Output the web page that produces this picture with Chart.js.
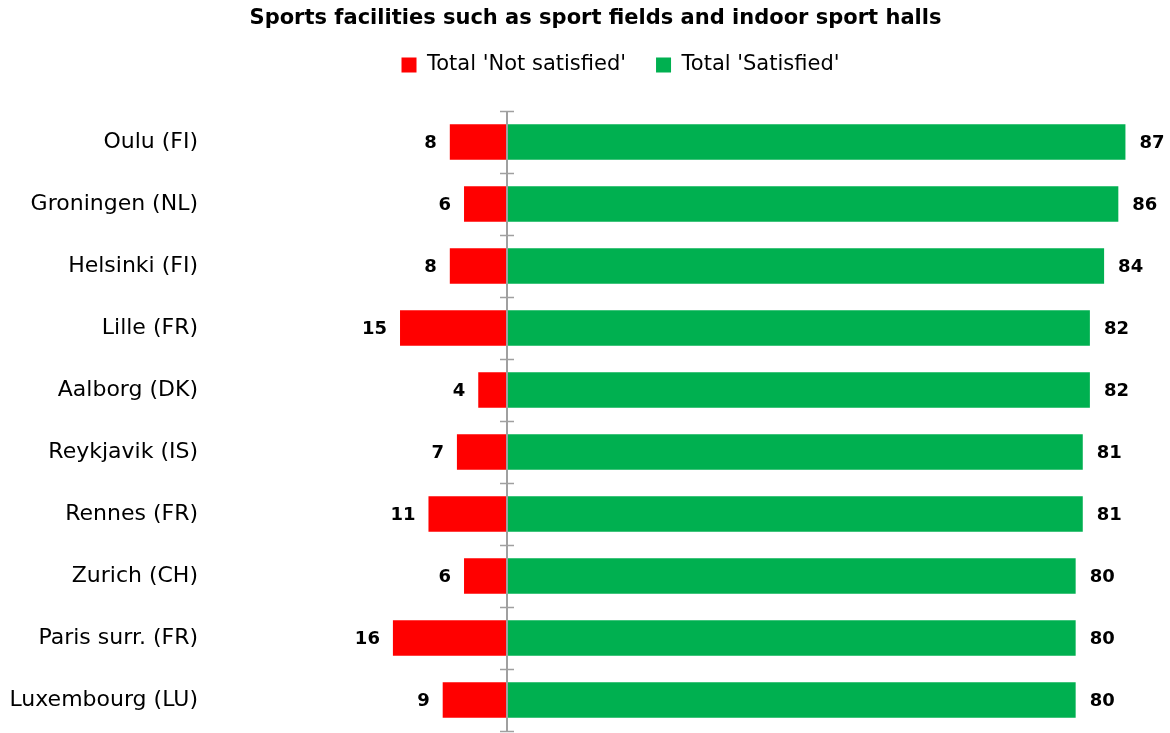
<!DOCTYPE html>
<html>
<head>
<meta charset="utf-8">
<script src="https://cdn.jsdelivr.net/npm/chart.js@4/dist/chart.umd.min.js"></script>
<style>
html,body{margin:0;padding:0;background:#fff;overflow:hidden;}
canvas{display:block;}
</style>
</head>
<body>
<canvas id="c" width="1170" height="733" style="width:1170px;height:733px;"></canvas>
<script>
const cities = ["Oulu (FI)","Groningen (NL)","Helsinki (FI)","Lille (FR)","Aalborg (DK)","Reykjavik (IS)","Rennes (FR)","Zurich (CH)","Paris surr. (FR)","Luxembourg (LU)"];
const notSatisfied = [8,6,8,15,4,7,11,6,16,9];
const satisfied = [87,86,84,82,82,81,81,80,80,80];
const seriesNames = ["Total 'Not satisfied'","Total 'Satisfied'"];
const chartTitle = "Sports facilities such as sport fields and indoor sport halls";

const labelFont = "'DejaVu Sans', Verdana, sans-serif";

const valueLabels = {
  id: 'valueLabels',
  afterDatasetsDraw(chart) {
    const ctx = chart.ctx;
    ctx.save();
    ctx.font = "bold 18px " + labelFont;
    ctx.fillStyle = '#000';
    ctx.textBaseline = 'middle';
    chart.data.datasets.forEach((ds, di) => {
      const meta = chart.getDatasetMeta(di);
      meta.data.forEach((bar, i) => {
        const v = Math.abs(ds.data[i]);
        if (ds.data[i] < 0) {
          ctx.textAlign = 'right';
          ctx.fillText(String(v), bar.x - 13, bar.y + 1);
        } else {
          ctx.textAlign = 'left';
          ctx.fillText(String(v), bar.x + 14, bar.y + 1);
        }
      });
    });
    ctx.restore();
  }
};

const axisTicks = {
  id: 'axisTicks',
  afterDatasetsDraw(chart) {
    const ctx = chart.ctx;
    const xs = chart.scales.x, ys = chart.scales.y;
    const x0 = Math.round(xs.getPixelForValue(0));
    ctx.save();
    ctx.strokeStyle = '#a0a0a0';
    ctx.lineWidth = 2;
    ctx.beginPath();
    ctx.moveTo(x0, ys.top);
    ctx.lineTo(x0, ys.bottom);
    ctx.stroke();
    ctx.lineWidth = 1.5;
    ctx.beginPath();
    const n = cities.length;
    const step = ys.getPixelForValue(1) - ys.getPixelForValue(0);
    for (let i = 0; i <= n; i++) {
      const y = ys.getPixelForValue(0) - step / 2 + i * step;
      const yy = Math.round(y) + 0.5;
      ctx.moveTo(x0 - 7, yy);
      ctx.lineTo(x0 + 7, yy);
    }
    ctx.stroke();
    ctx.restore();
  }
};

const shiftBoxes = {
  id: 'shiftBoxes',
  afterLayout(chart) {
    if (chart.titleBlock) chart.titleBlock.left += 30;
    if (chart.legend) chart.legend.left += 80;
  }
};

new Chart(document.getElementById('c'), {
  type: 'bar',
  data: {
    labels: cities,
    datasets: [
      { label: seriesNames[0], data: notSatisfied.map(v => -v), backgroundColor: '#FF0000', borderWidth: 0, barPercentage: 0.57, categoryPercentage: 1 },
      { label: seriesNames[1], data: satisfied, backgroundColor: '#00B050', borderWidth: 0, barPercentage: 0.57, categoryPercentage: 1 }
    ]
  },
  options: {
    indexAxis: 'y',
    responsive: false,
    maintainAspectRatio: false,
    animation: false,
    layout: { autoPadding: false, padding: { top: 0, right: 9, bottom: 2, left: 0 } },
    scales: {
      x: {
        stacked: true,
        position: 'top',
        min: -42, max: 92,
        ticks: { display: false },
        grid: { display: false, drawTicks: true, tickLength: 25.5 },
        border: { display: false }
      },
      y: {
        stacked: true,
        ticks: { color: '#000', font: { family: labelFont, size: 22 }, padding: 10 },
        grid: { display: false, drawTicks: false },
        border: { display: false },
        afterFit(scale) { scale.width = 208; scale.paddingTop = 0; scale.paddingBottom = 0; }
      }
    },
    plugins: {
      title: {
        display: true,
        text: chartTitle,
        color: '#000',
        font: { family: "'DejaVu Sans', Verdana, sans-serif", size: 21, weight: 'bold' },
        padding: { top: 6.4, bottom: -7.1 }
      },
      legend: {
        display: true,
        labels: {
          color: '#000',
          font: { family: labelFont, size: 21 },
          boxWidth: 15, boxHeight: 15,
          padding: 30
        }
      },
      tooltip: { enabled: false }
    }
  },
  plugins: [valueLabels, axisTicks, shiftBoxes]
});
</script>
</body>
</html>
